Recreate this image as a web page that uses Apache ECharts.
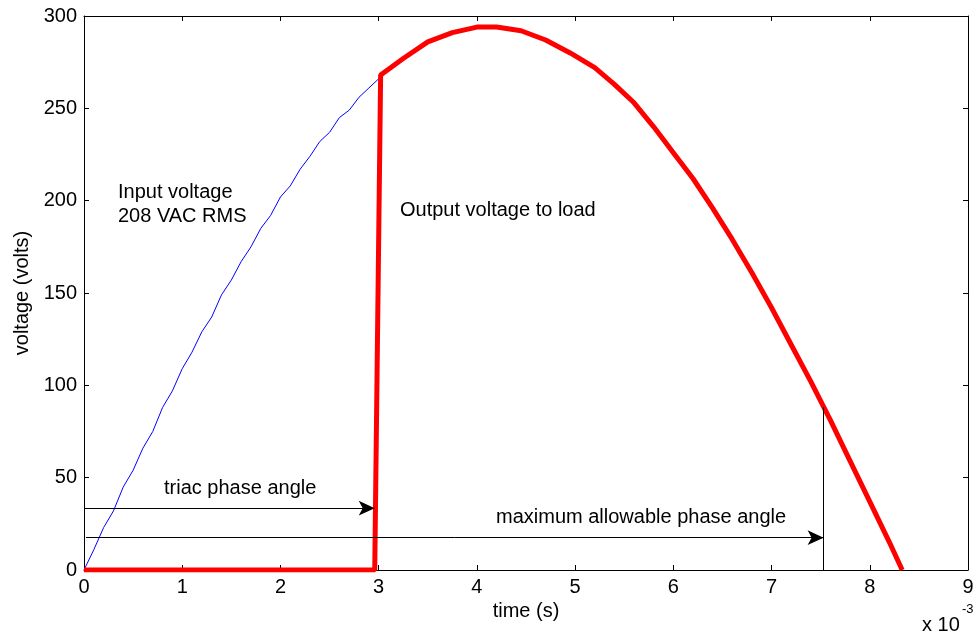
<!DOCTYPE html>
<html>
<head>
<meta charset="utf-8">
<script src="https://cdn.jsdelivr.net/npm/echarts@6/dist/echarts.min.js"></script>
<style>
html, body { margin: 0; padding: 0; background: #fff; }
#main { width: 980px; height: 632px; }
</style>
</head>
<body>
<div id="main"></div>
<script>
// time in ms (axis shows x 10^-3 s), voltage in volts
var inputTime = [0, 0.1, 0.2, 0.3, 0.4, 0.5, 0.6, 0.7, 0.8, 0.9, 1.0, 1.1, 1.2, 1.3, 1.4, 1.5,
    1.6, 1.7, 1.8, 1.9, 2.0, 2.1, 2.2, 2.3, 2.4, 2.5, 2.6, 2.7, 2.8, 2.9, 3.02];
var inputVolts = [0, 11, 23, 32, 45, 54, 66, 75, 88, 97, 109, 118, 129, 137, 149, 157,
    167, 175, 185, 192, 202, 208, 217, 224, 232, 237, 245, 249, 256, 261, 267];

var outputTime = [0, 2.96, 3.02, 3.25, 3.5, 3.75, 4.0, 4.2, 4.45, 4.7, 4.95, 5.2, 5.4, 5.6,
    5.8, 6.0, 6.2, 6.4, 6.6, 6.8, 7.0, 7.2, 7.4, 7.6, 7.8, 8.0, 8.2, 8.33];
var outputVolts = [0, 0, 268, 277, 286, 291, 294, 294, 292, 287, 280, 272, 263, 253,
    240, 226, 212, 196, 179, 161, 142, 122, 102, 81, 59, 37, 15, 0];

var triacAngle = 2.96, triacArrowY = 33.5;
var maxAngle = 7.53, maxArrowY = 17.5, maxLineTop = 88;

function pairs(xs, ys) {
    return xs.map(function (x, i) { return [x, ys[i]]; });
}

var myChart = echarts.init(document.getElementById('main'));
var font = 'Liberation Sans, Arial, Helvetica, sans-serif';
var fs = 20;
var tick = { show: true, inside: true, length: 5, lineStyle: { color: '#000' } };
var axLine = { show: true, onZero: false, lineStyle: { color: '#000', width: 1 } };

function label(txt, x, y) {
    return { type: 'text', left: x, top: y, style: { text: txt, fontSize: fs, fontFamily: font, fill: '#000' } };
}

myChart.setOption({
    animation: false,
    grid: { left: 84, right: 12, top: 16, bottom: 62 },
    xAxis: [{
        type: 'value', min: 0, max: 9, interval: 1,
        name: 'time (s)', nameLocation: 'middle', nameGap: 30,
        nameTextStyle: { color: '#000', fontSize: fs, fontFamily: font },
        axisLine: axLine, axisTick: tick, splitLine: { show: false },
        axisLabel: { color: '#000', fontSize: fs, fontFamily: font, margin: 7 }
    }, {
        type: 'value', min: 0, max: 9, interval: 1, position: 'top',
        axisLine: axLine, axisTick: tick, splitLine: { show: false },
        axisLabel: { show: false }
    }],
    yAxis: [{
        type: 'value', min: 0, max: 300, interval: 50,
        name: 'voltage (volts)', nameLocation: 'middle', nameGap: 50,
        nameTextStyle: { color: '#000', fontSize: fs, fontFamily: font },
        axisLine: axLine, axisTick: tick, splitLine: { show: false },
        axisLabel: { color: '#000', fontSize: fs, fontFamily: font, margin: 7 }
    }, {
        type: 'value', min: 0, max: 300, interval: 50, position: 'right',
        axisLine: axLine, axisTick: tick, splitLine: { show: false },
        axisLabel: { show: false }
    }],
    series: [{
        type: 'line',
        data: pairs(inputTime, inputVolts),
        symbol: 'none',
        lineStyle: { color: '#0000ff', width: 1 },
        z: 2
    }, {
        type: 'line',
        data: pairs(outputTime, outputVolts),
        symbol: 'none',
        lineStyle: { color: '#ff0000', width: 5 },
        z: 3,
        markLine: {
            silent: true,
            animation: false,
            label: { show: false },
            lineStyle: { color: '#000', width: 1, type: 'solid' },
            symbol: ['none', 'arrow'],
            symbolSize: [11, 16],
            data: [
                [{ coord: [0, triacArrowY] }, { coord: [triacAngle, triacArrowY] }],
                [{ coord: [0.02, maxArrowY] }, { coord: [maxAngle, maxArrowY] }],
                [{ coord: [maxAngle, 0], symbol: 'none' }, { coord: [maxAngle, maxLineTop], symbol: 'none' }]
            ]
        }
    }],
    graphic: [
        label('Input voltage', 118, 182),
        label('208 VAC RMS', 118, 206),
        label('Output voltage to load', 400, 200),
        label('triac phase angle', 164, 478),
        label('maximum allowable phase angle', 496, 507),
        label('x 10', 922, 615),
        { type: 'text', left: 962, top: 603, style: { text: '-3', fontSize: 13, fontFamily: font, fill: '#000' } }
    ]
});
</script>
</body>
</html>
